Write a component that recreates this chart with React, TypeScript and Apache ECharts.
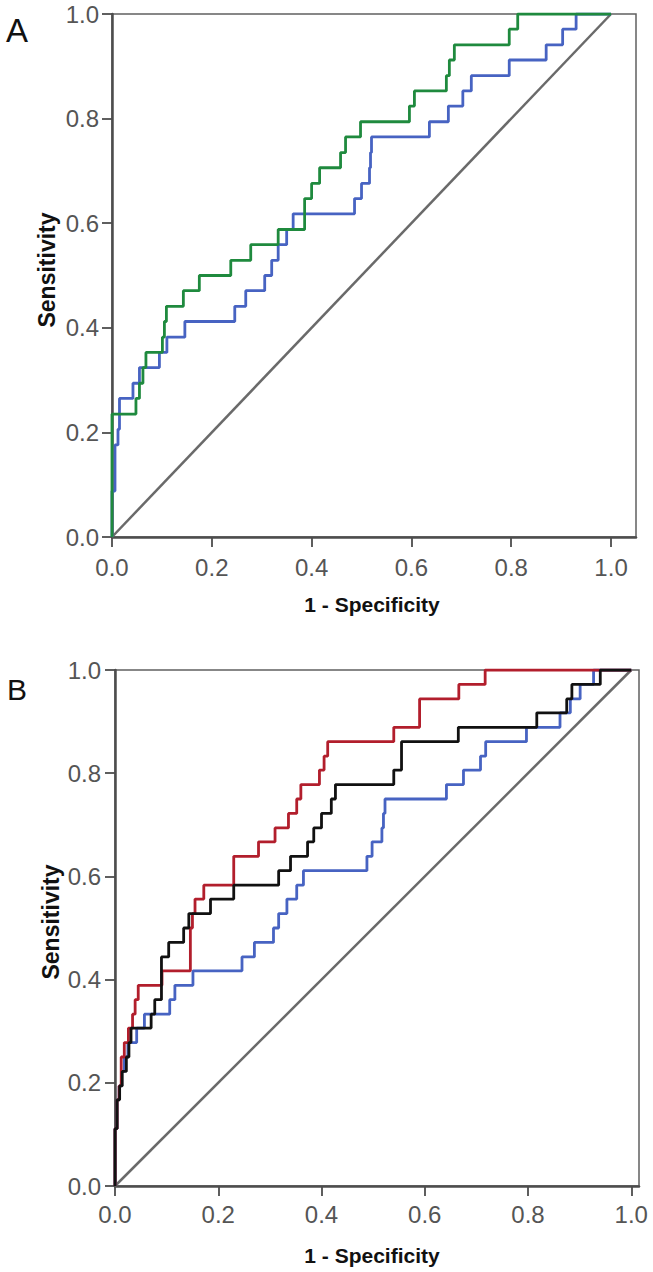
import React, { useEffect, useRef } from 'react';
import * as echarts from 'echarts';

// Tick labels (both axes, both panels)
const tickValues = [0, 0.2, 0.4, 0.6, 0.8, 1.0];

// Panel A – ROC step points (1 - specificity where a step occurs, new sensitivity)
const aBlueX = [0, 0, 0.006, 0.012, 0.015, 0.042, 0.055, 0.095, 0.11, 0.146, 0.246, 0.268, 0.306, 0.32, 0.333, 0.35, 0.363, 0.486, 0.5, 0.516, 0.518, 0.52, 0.636, 0.674, 0.703, 0.72, 0.796, 0.87, 0.903, 0.93, 1];
const aBlueY = [0, 0.088, 0.176, 0.206, 0.265, 0.294, 0.324, 0.353, 0.382, 0.412, 0.441, 0.471, 0.5, 0.529, 0.559, 0.588, 0.618, 0.647, 0.676, 0.706, 0.735, 0.765, 0.794, 0.824, 0.853, 0.882, 0.912, 0.941, 0.971, 1, 1];

const aGreenX = [0, 0, 0.048, 0.055, 0.062, 0.068, 0.101, 0.105, 0.109, 0.143, 0.175, 0.238, 0.278, 0.333, 0.386, 0.4, 0.416, 0.458, 0.468, 0.498, 0.596, 0.606, 0.67, 0.676, 0.686, 0.796, 0.813, 1];
const aGreenY = [0, 0.235, 0.265, 0.294, 0.324, 0.353, 0.382, 0.412, 0.441, 0.471, 0.5, 0.529, 0.559, 0.588, 0.647, 0.676, 0.706, 0.735, 0.765, 0.794, 0.824, 0.853, 0.882, 0.912, 0.941, 0.971, 1, 1];

// Panel B
const bBlueX = [0, 0, 0.004, 0.008, 0.013, 0.018, 0.025, 0.042, 0.057, 0.106, 0.116, 0.151, 0.246, 0.27, 0.307, 0.317, 0.333, 0.352, 0.365, 0.488, 0.498, 0.517, 0.52, 0.523, 0.642, 0.675, 0.708, 0.718, 0.797, 0.862, 0.882, 0.901, 0.927, 1];
const bBlueY = [0, 0.111, 0.167, 0.194, 0.222, 0.25, 0.278, 0.306, 0.333, 0.361, 0.389, 0.417, 0.444, 0.472, 0.5, 0.528, 0.556, 0.583, 0.611, 0.639, 0.667, 0.694, 0.722, 0.75, 0.778, 0.806, 0.833, 0.861, 0.889, 0.917, 0.944, 0.972, 1, 1];

const bRedX = [0, 0, 0.004, 0.008, 0.012, 0.018, 0.026, 0.034, 0.039, 0.045, 0.091, 0.146, 0.15, 0.155, 0.172, 0.23, 0.278, 0.31, 0.336, 0.352, 0.36, 0.396, 0.405, 0.412, 0.54, 0.59, 0.666, 0.717, 1];
const bRedY = [0, 0.111, 0.167, 0.194, 0.25, 0.278, 0.306, 0.333, 0.361, 0.389, 0.417, 0.5, 0.528, 0.556, 0.583, 0.639, 0.667, 0.694, 0.722, 0.75, 0.778, 0.806, 0.833, 0.861, 0.889, 0.944, 0.972, 1, 1];

const bBlackX = [0, 0, 0.004, 0.009, 0.014, 0.022, 0.027, 0.031, 0.07, 0.077, 0.09, 0.104, 0.133, 0.143, 0.185, 0.23, 0.317, 0.34, 0.373, 0.385, 0.4, 0.419, 0.427, 0.54, 0.555, 0.665, 0.817, 0.875, 0.885, 0.94, 1];
const bBlackY = [0, 0.111, 0.167, 0.194, 0.222, 0.25, 0.278, 0.306, 0.333, 0.361, 0.444, 0.472, 0.5, 0.528, 0.556, 0.583, 0.611, 0.639, 0.667, 0.694, 0.722, 0.75, 0.778, 0.806, 0.861, 0.889, 0.917, 0.944, 0.972, 1, 1];

// Reference diagonal
const diagX = [0, 1];
const diagY = [0, 1];

const zip = (xs: number[], ys: number[]) => xs.map((x, i) => [x, ys[i]]);

const FONT = '"Liberation Sans", Arial, Helvetica, sans-serif';
const AXIS_COLOR = '#4d4d4d';
const LABEL_COLOR = '#555555';

function makeXAxis(gridIndex: number, max: number, margin: number) {
  return {
    type: 'value',
    gridIndex,
    min: 0,
    max,
    interval: 0.2,
    axisLine: { show: true, onZero: false, lineStyle: { color: AXIS_COLOR, width: 2.5 } },
    axisTick: { show: true, length: 10, customValues: tickValues, lineStyle: { color: AXIS_COLOR, width: 1.8 } },
    axisLabel: {
      customValues: tickValues,
      margin,
      fontSize: 24,
      fontFamily: FONT,
      color: LABEL_COLOR,
      formatter: (v: number) => (v > 1.001 ? '' : v.toFixed(1)),
    },
    splitLine: { show: false },
  };
}

function makeYAxis(gridIndex: number, margin: number) {
  return {
    type: 'value',
    gridIndex,
    min: 0,
    max: 1,
    interval: 0.2,
    axisLine: { show: true, onZero: false, lineStyle: { color: AXIS_COLOR, width: 2.5 } },
    axisTick: { show: true, length: 10, lineStyle: { color: AXIS_COLOR, width: 1.8 } },
    axisLabel: {
      margin,
      fontSize: 24,
      fontFamily: FONT,
      color: LABEL_COLOR,
      formatter: (v: number) => v.toFixed(1),
    },
    splitLine: { show: false },
  };
}

function stepSeries(name: string, xs: number[], ys: number[], color: string, idx: number) {
  return {
    name,
    type: 'line',
    xAxisIndex: idx,
    yAxisIndex: idx,
    data: zip(xs, ys),
    step: 'end',
    showSymbol: false,
    symbol: 'none',
    lineStyle: { color, width: 2.8 },
    silent: true,
  };
}

function diagSeries(idx: number) {
  return {
    name: 'Reference',
    type: 'line',
    xAxisIndex: idx,
    yAxisIndex: idx,
    data: zip(diagX, diagY),
    showSymbol: false,
    symbol: 'none',
    lineStyle: { color: '#6a6a6a', width: 2.5 },
    silent: true,
  };
}

export default function App() {
  const ref = useRef<HTMLDivElement>(null);

  useEffect(() => {
    if (!ref.current) return;
    const chart = echarts.init(ref.current, undefined, { renderer: 'svg' });
    const option: any = {
      animation: false,
      backgroundColor: '#ffffff',
      grid: [
        { left: 112, top: 14, width: 524, height: 523, show: true, borderColor: '#606060', borderWidth: 1.5 },
        { left: 115, top: 670, width: 524, height: 516, show: true, borderColor: '#606060', borderWidth: 1.5 },
      ],
      xAxis: [makeXAxis(0, 1.05, 18), makeXAxis(1, 1.015, 16)],
      yAxis: [makeYAxis(0, 13), makeYAxis(1, 14)],
      series: [
        diagSeries(0),
        stepSeries('A blue', aBlueX, aBlueY, '#4763c2', 0),
        stepSeries('A green', aGreenX, aGreenY, '#1f8a3e', 0),
        diagSeries(1),
        stepSeries('B blue', bBlueX, bBlueY, '#4763c2', 1),
        stepSeries('B red', bRedX, bRedY, '#b21e2c', 1),
        stepSeries('B black', bBlackX, bBlackY, '#111111', 1),
      ],
      graphic: [
        { type: 'text', left: 6, top: 14, style: { text: 'A', font: `33px ${FONT}`, fill: '#111' } },
        { type: 'text', left: 7, top: 674, style: { text: 'B', font: `30px ${FONT}`, fill: '#111' } },
        {
          type: 'text', x: 47, y: 270, rotation: Math.PI / 2,
          style: { text: 'Sensitivity', font: `bold 23px ${FONT}`, fill: '#111', textAlign: 'center', textVerticalAlign: 'middle' },
        },
        {
          type: 'text', x: 51, y: 922, rotation: Math.PI / 2,
          style: { text: 'Sensitivity', font: `bold 23px ${FONT}`, fill: '#111', textAlign: 'center', textVerticalAlign: 'middle' },
        },
        {
          type: 'text', x: 372, y: 604,
          style: { text: '1 - Specificity', font: `bold 21px ${FONT}`, fill: '#111', textAlign: 'center', textVerticalAlign: 'middle' },
        },
        {
          type: 'text', x: 372, y: 1255,
          style: { text: '1 - Specificity', font: `bold 21px ${FONT}`, fill: '#111', textAlign: 'center', textVerticalAlign: 'middle' },
        },
      ],
    };
    chart.setOption(option);
    return () => chart.dispose();
  }, []);

  return <div ref={ref} style={{ position: 'absolute', left: 0, top: 0, width: 653, height: 1272 }} />;
}
